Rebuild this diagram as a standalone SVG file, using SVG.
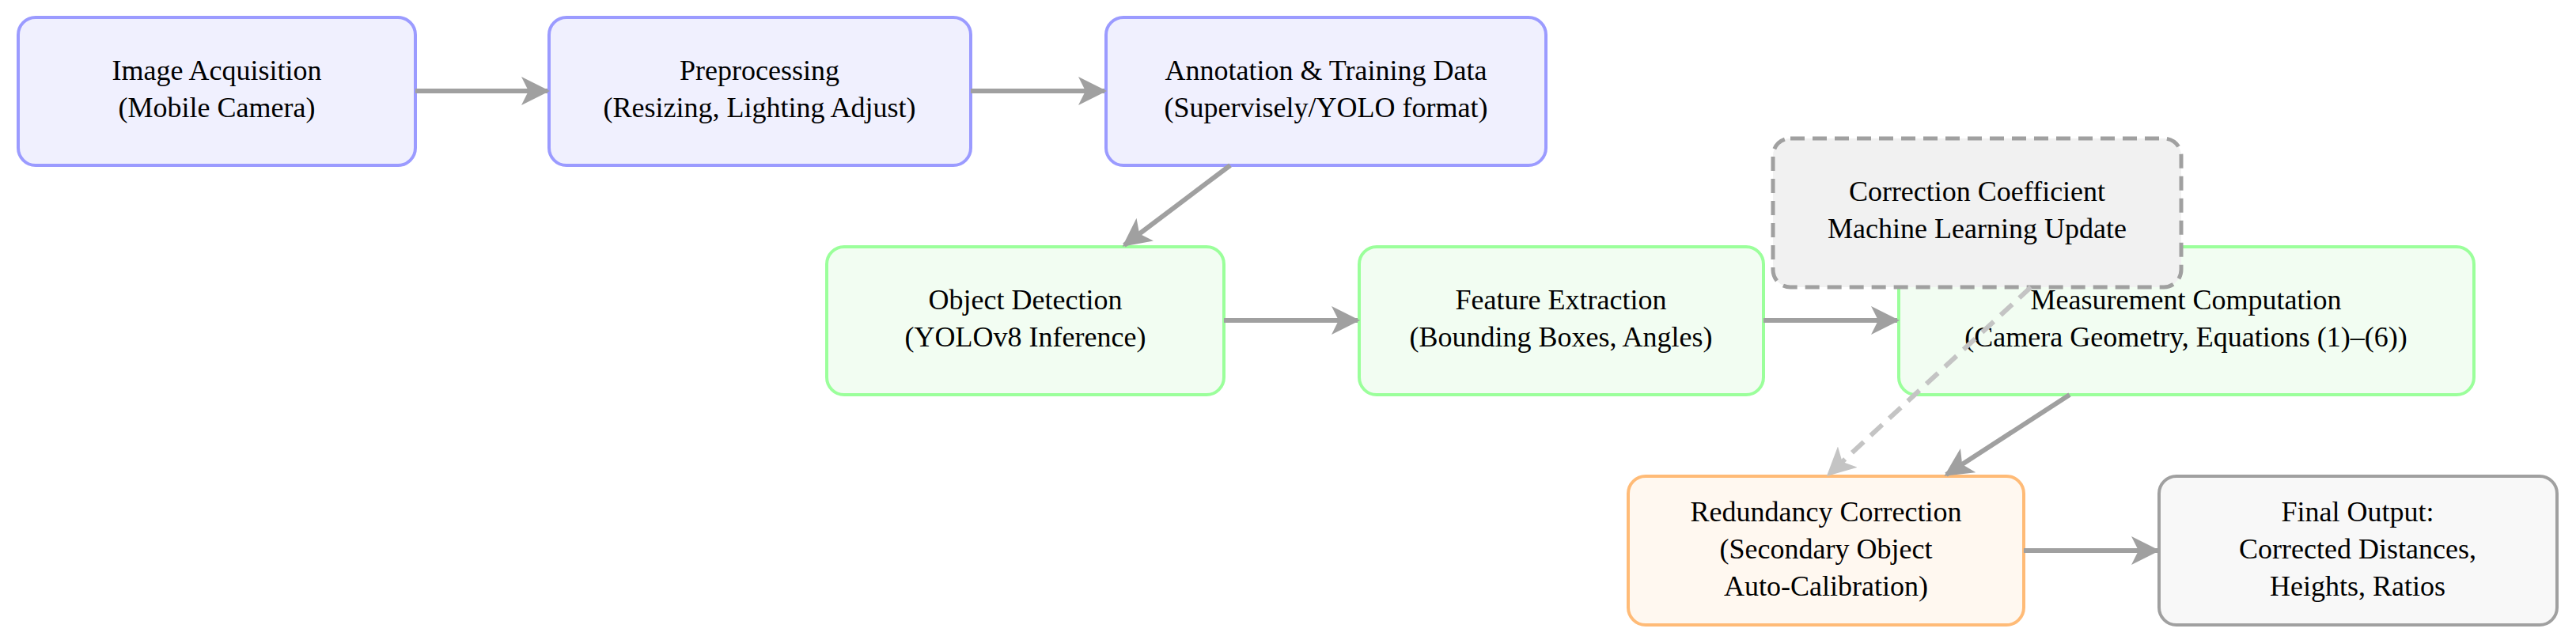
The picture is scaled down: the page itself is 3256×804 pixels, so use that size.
<svg xmlns="http://www.w3.org/2000/svg" width="3256" height="804" viewBox="0 0 3256 804">
<style>
text{font-family:"Liberation Serif","DejaVu Serif",serif;font-size:36px;text-anchor:middle;fill:#000}
.b{fill:#f0f0fe;stroke:#9b9bff;stroke-width:4}
.g{fill:#f2fdf2;stroke:#9bff9b;stroke-width:4}
.o{fill:#fff8f0;stroke:#ffbb77;stroke-width:4}
.f{fill:#f8f8f8;stroke:#a0a0a0;stroke-width:4}
.c{fill:#f1f1f1;stroke:#a0a0a0;stroke-width:5;stroke-dasharray:18,10}
.a{stroke:#a0a0a0;stroke-width:6;fill:none;marker-end:url(#ah)}
.d{stroke:#c4c4c4;stroke-width:6;fill:none;stroke-dasharray:20,12;marker-end:url(#ahl)}
</style>
<defs>
<marker id="ah" viewBox="0 0 12 12" refX="11" refY="6" markerWidth="6" markerHeight="6" markerUnits="strokeWidth" orient="auto"><path d="M0,0 L12,6 L0,12 L3,6 Z" fill="#a0a0a0"/></marker>
<marker id="ahl" viewBox="0 0 12 12" refX="11" refY="6" markerWidth="6" markerHeight="6" markerUnits="strokeWidth" orient="auto"><path d="M0,0 L12,6 L0,12 L3,6 Z" fill="#c4c4c4"/></marker>
</defs>
<g id="n1"><rect class="b" x="23" y="22" width="502" height="187" rx="22"/><text x="274" y="101">Image Acquisition</text><text x="274" y="148">(Mobile Camera)</text></g>
<g id="n2"><rect class="b" x="694" y="22" width="533" height="187" rx="22"/><text x="960" y="101">Preprocessing</text><text x="960" y="148">(Resizing, Lighting Adjust)</text></g>
<g id="n3"><rect class="b" x="1398" y="22" width="556" height="187" rx="22"/><text x="1676" y="101">Annotation &amp; Training Data</text><text x="1676" y="148">(Supervisely/YOLO format)</text></g>
<g id="n4"><rect class="g" x="1045" y="312" width="502" height="187" rx="22"/><text x="1296" y="391">Object Detection</text><text x="1296" y="438">(YOLOv8 Inference)</text></g>
<g id="n5"><rect class="g" x="1718" y="312" width="511" height="187" rx="22"/><text x="1973" y="391">Feature Extraction</text><text x="1973" y="438">(Bounding Boxes, Angles)</text></g>
<g id="n6"><rect class="g" x="2400" y="312" width="727" height="187" rx="22"/><text x="2763" y="391">Measurement Computation</text><text x="2763" y="438">(Camera Geometry, Equations (1)–(6))</text></g>
<g id="n7"><rect class="c" x="2241" y="175" width="516" height="188" rx="22"/><text x="2499" y="254">Correction Coefficient</text><text x="2499" y="301">Machine Learning Update</text></g>
<g id="n8"><rect class="o" x="2058" y="602" width="500" height="188" rx="22"/><text x="2308" y="659">Redundancy Correction</text><text x="2308" y="706">(Secondary Object</text><text x="2308" y="753">Auto-Calibration)</text></g>
<g id="n9"><rect class="f" x="2729" y="602" width="503" height="188" rx="22"/><text x="2980" y="659">Final Output:</text><text x="2980" y="706">Corrected Distances,</text><text x="2980" y="753">Heights, Ratios</text></g>
<g id="connectors">
<line class="a" x1="525" y1="115" x2="692" y2="115"/>
<line class="a" x1="1227" y1="115" x2="1396" y2="115"/>
<line class="a" x1="1555" y1="209" x2="1421" y2="310"/>
<line class="a" x1="1547" y1="405" x2="1716" y2="405"/>
<line class="a" x1="2229" y1="405" x2="2398" y2="405"/>
<line class="a" x1="2616" y1="499" x2="2460" y2="600"/>
<line class="d" x1="2567" y1="363" x2="2311" y2="600"/>
<line class="a" x1="2558" y1="696" x2="2727" y2="696"/>
</g>
</svg>
